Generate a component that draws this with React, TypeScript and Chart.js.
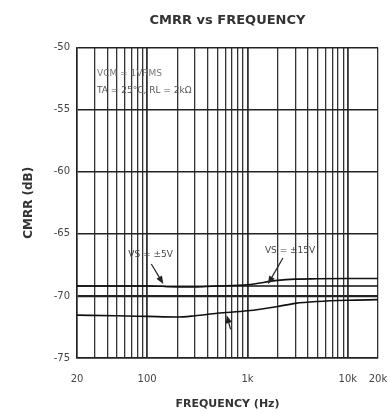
import { useEffect, useRef } from 'react';
import { Chart, registerables } from 'chart.js';

Chart.register(...registerables);

// Frequency points (Hz) shared by all curves
const freqHz = [20, 50, 100, 200, 300, 500, 1000, 2000, 3000, 5000, 10000, 20000];

// CMRR (dB) per supply condition
const cmrrVs5 = [-69.2, -69.2, -69.2, -69.25, -69.25, -69.2, -69.2, -69.2, -69.2, -69.2, -69.2, -69.2];
const cmrrVs15 = [-69.2, -69.2, -69.2, -69.25, -69.25, -69.2, -69.1, -68.75, -68.65, -68.62, -68.6, -68.6];
const cmrrLow = [-71.55, -71.6, -71.65, -71.7, -71.6, -71.4, -71.2, -70.85, -70.6, -70.45, -70.35, -70.3];

// Axis ticks
const gridFreqs = [
  20, 30, 40, 50, 60, 70, 80, 90, 100,
  200, 300, 400, 500, 600, 700, 800, 900, 1000,
  2000, 3000, 4000, 5000, 6000, 7000, 8000, 9000, 10000, 20000,
];
const freqLabelValues = [20, 100, 1000, 10000, 20000];
const freqLabelTexts = ['20', '100', '1k', '10k', '20k'];
const dbTicks = [-75, -70, -65, -60, -55, -50];

// Text on the plot
const conditionLines = ['VCM = 1VRMS', 'TA = 25°C, RL = 2kΩ'];
const curveNoteTexts = ['VS = ±5V', 'VS = ±15V'];
const curveNoteFreqs = [145, 1600];
const curveNoteDb = [-69.2, -69.2];
const lowArrowFreq = 620;
const lowArrowDb = -71.4;

const FONT = '"DejaVu Sans", "Liberation Sans", Arial, sans-serif';

function drawArrow(ctx: CanvasRenderingContext2D, fx: number, fy: number, tx: number, ty: number) {
  const ang = Math.atan2(ty - fy, tx - fx);
  const len = 8;
  const hw = 3.2;
  ctx.beginPath();
  ctx.moveTo(fx, fy);
  ctx.lineTo(tx - Math.cos(ang) * len * 0.6, ty - Math.sin(ang) * len * 0.6);
  ctx.stroke();
  ctx.beginPath();
  ctx.moveTo(tx, ty);
  ctx.lineTo(tx - Math.cos(ang) * len - Math.sin(ang) * hw, ty - Math.sin(ang) * len + Math.cos(ang) * hw);
  ctx.lineTo(tx - Math.cos(ang) * len + Math.sin(ang) * hw, ty - Math.sin(ang) * len - Math.cos(ang) * hw);
  ctx.closePath();
  ctx.fill();
}

const notesPlugin = {
  id: 'curveNotes',
  afterDatasetsDraw(chart: any) {
    const { ctx, chartArea, scales } = chart;
    const x = scales.x;
    const y = scales.y;
    ctx.save();
    ctx.textBaseline = 'middle';
    ctx.textAlign = 'left';

    // test conditions, upper-left corner
    ctx.font = `9px ${FONT}`;
    ctx.fillStyle = '#777';
    ctx.fillText(conditionLines[0], chartArea.left + 20, chartArea.top + 26);
    ctx.fillStyle = '#555';
    ctx.fillText(conditionLines[1], chartArea.left + 20, chartArea.top + 43);

    // curve labels with leader arrows
    ctx.strokeStyle = '#222';
    ctx.fillStyle = '#222';
    ctx.lineWidth = 1.2;
    const textOffsets = [
      { dx: -35, dy: -29, lx: -12, ly: -20 },
      { dx: -3, dy: -33, lx: 15, ly: -26 },
    ];
    curveNoteTexts.forEach((t, i) => {
      const tx = x.getPixelForValue(curveNoteFreqs[i]);
      const ty = y.getPixelForValue(curveNoteDb[i]) - 2;
      const o = textOffsets[i];
      ctx.font = `9px ${FONT}`;
      ctx.fillStyle = '#444';
      ctx.fillText(t, tx + o.dx, ty + o.dy);
      ctx.fillStyle = '#222';
      drawArrow(ctx, tx + o.lx, ty + o.ly, tx, ty);
    });

    // arrow onto the lower curve
    const ax = x.getPixelForValue(lowArrowFreq);
    const ay = y.getPixelForValue(lowArrowDb) + 2;
    drawArrow(ctx, ax + 4, ay + 14, ax, ay);
    ctx.restore();
  },
};

export default function App() {
  const canvasRef = useRef<HTMLCanvasElement | null>(null);

  useEffect(() => {
    const canvas = canvasRef.current;
    if (!canvas) return;

    const lineStyle = {
      borderColor: '#111',
      borderWidth: 1.6,
      pointRadius: 0,
      fill: false,
      cubicInterpolationMode: 'monotone' as const,
    };

    const chart = new Chart(canvas, {
      type: 'line',
      data: {
        datasets: [
          { label: 'VS = ±5V', data: freqHz.map((f, i) => ({ x: f, y: cmrrVs5[i] })), ...lineStyle },
          { label: 'VS = ±15V', data: freqHz.map((f, i) => ({ x: f, y: cmrrVs15[i] })), ...lineStyle },
          { label: 'CMRR', data: freqHz.map((f, i) => ({ x: f, y: cmrrLow[i] })), ...lineStyle },
        ],
      },
      options: {
        animation: false,
        responsive: false,
        events: [],
        layout: { padding: { left: 0, right: 0, top: 0, bottom: 0 } },
        plugins: {
          legend: { display: false },
          tooltip: { enabled: false },
          title: {
            display: true,
            text: 'CMRR vs FREQUENCY',
            fullSize: false,
            color: '#333',
            font: { family: FONT, size: 13, weight: 'bold' },
            padding: { top: 13, bottom: 19 },
          },
        },
        scales: {
          x: {
            type: 'logarithmic',
            min: 20,
            max: 20000,
            afterBuildTicks: (s: any) => {
              s.ticks = gridFreqs.map((v) => ({ value: v }));
            },
            afterFit: (s: any) => {
              s.height = 56;
              s.paddingRight = 12;
              s.paddingLeft = 0;
            },
            ticks: {
              autoSkip: false,
              maxRotation: 0,
              padding: 15,
              color: '#444',
              font: { family: FONT, size: 10 },
              callback: (v: any) => {
                const idx = freqLabelValues.indexOf(Number(v));
                return idx >= 0 ? freqLabelTexts[idx] : '';
              },
            },
            grid: {
              color: '#333',
              lineWidth: (c: any) =>
                c.tick && [100, 1000, 10000].includes(c.tick.value) ? 1.8 : 1.3,
              drawTicks: false,
            },
            border: { display: true, color: '#222', width: 1.6 },
            title: {
              display: true,
              text: 'FREQUENCY (Hz)',
              color: '#333',
              font: { family: FONT, size: 11, weight: 'bold' },
              padding: { top: 0, bottom: 3 },
            },
          },
          y: {
            type: 'linear',
            min: -75,
            max: -50,
            afterBuildTicks: (s: any) => {
              s.ticks = dbTicks.map((v) => ({ value: v }));
            },
            afterFit: (s: any) => {
              s.width = 77;
            },
            ticks: {
              padding: 7,
              color: '#444',
              font: { family: FONT, size: 10 },
              callback: (v: any) => String(v),
            },
            grid: {
              color: '#222',
              lineWidth: (c: any) => (c.tick && c.tick.value === -70 ? 2.2 : 1.6),
              drawTicks: false,
            },
            border: { display: true, color: '#222', width: 1.6 },
            title: {
              display: true,
              text: 'CMRR (dB)',
              color: '#333',
              font: { family: FONT, size: 12, weight: 'bold' },
              padding: { top: 22, bottom: 0 },
            },
          },
        },
      },
      plugins: [notesPlugin],
    });

    return () => chart.destroy();
  }, []);

  return (
    <div style={{ position: 'fixed', left: 0, top: 0, width: 390, height: 414, background: '#fff' }}>
      <canvas ref={canvasRef} width={390} height={414} />
    </div>
  );
}
